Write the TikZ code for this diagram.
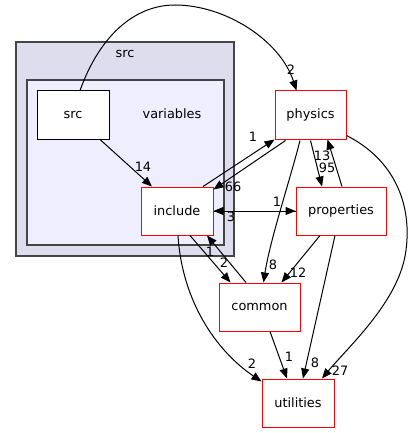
\documentclass[tikz,border=0pt]{standalone}
\usepackage{fontspec}
\setmainfont{DejaVu Sans}
\usetikzlibrary{arrows.meta,calc}
\tikzset{
  dnode/.style={draw=red, fill=white, line width=1pt, minimum height=48pt, inner sep=0pt, font=\fontsize{12.9}{15}\selectfont},
  snode/.style={draw=black, fill=white, line width=1pt, minimum height=48pt, inner sep=0pt, font=\fontsize{12.9}{15}\selectfont},
  lbl/.style={inner sep=0pt, font=\fontsize{12.9}{15}\selectfont},
  edge/.style={draw=black, line width=1pt, -{Triangle[length=10pt,width=8pt]}},
}
\begin{document}
\begin{tikzpicture}[x=1pt,y=-1pt]
\useasboundingbox (0,0) rectangle (413,433);
% clusters
\draw[fill={rgb,255:red,221;green,221;blue,238}, draw={rgb,255:red,68;green,68;blue,68}, line width=1.3pt] (16,42) rectangle (234,256);
\node[lbl] (srclbl) at (125,54) {src};
\draw[fill={rgb,255:red,238;green,238;blue,255}, draw={rgb,255:red,68;green,68;blue,68}, line width=1.3pt] (27,80) rectangle (224,245);
\node[lbl] (varlbl) at (172,114) {variables};
% nodes
\node[snode, minimum width=72pt] (src) at (73,115) {src};
\node[dnode, minimum width=72pt] (include) at (177,211) {include};
\node[dnode, minimum width=71pt] (physics) at (310.5,115) {physics};
\node[dnode, minimum width=90pt] (properties) at (341,211) {properties};
\node[dnode, minimum width=81pt] (common) at (259.5,307) {common};
\node[dnode, minimum width=72pt] (utilities) at (298,403) {utilities};
% edges
\draw[edge] ($(src.north)+(7,0)$) .. controls (100,35) and (135,5) .. (175,5) .. controls (225,5) and (280,40) .. ($(physics.north)+(-14,0)$);
\draw[edge] ($(src.south)+(27,0)$) -- ($(include.north)+(-25,0)$);
\draw[edge] ($(include.north)+(26,0)$) -- ($(physics.south west)+(0,0)$);
\draw[edge] ($(physics.south)+(-25,1)$) -- ($(include.north east)+(0,3)$);
\draw[edge] (include.east) -- (properties.west);
\draw[edge] (properties.west) -- (include.east);
\draw[edge] ($(include.south)+(13,0)$) -- ($(common.north)+(-29,0)$);
\draw[edge] ($(common.north)+(-13.5,0)$) -- ($(include.south)+(30,0)$);
\draw[edge] ($(include.south)+(1,0)$) .. controls (182,300) and (215,350) .. ($(utilities.north west)+(0,3)$);
\draw[edge] ($(physics.south)+(-10.5,1)$) .. controls (290,180) and (270,240) .. ($(common.north)+(4,0)$);
\draw[edge] ($(physics.south)+(0,1)$) -- ($(properties.north)+(-19,0)$);
\draw[edge] ($(properties.north)+(1,0)$) -- ($(physics.south)+(17,0)$);
\draw[edge] ($(properties.south)+(-21,0)$) -- ($(common.north)+(22,0)$);
\draw[edge] ($(properties.south)+(-6,0)$) -- ($(utilities.north)+(5,0)$);
\draw[edge] ($(physics.south east)+(0,-4)$) .. controls (395,160) and (412,205) .. (406,250) .. controls (400,300) and (350,345) .. ($(utilities.north)+(24,0)$);
\draw[edge] ($(common.south)+(10.5,0)$) -- ($(utilities.north)+(-11,0)$);
% labels
\node[lbl] (l1) at (291,70) {2};
\node[lbl] (l2) at (143,167) {14};
\node[lbl] (l3) at (253,137) {1};
\node[lbl] (l4) at (233,187) {66};
\node[lbl] (l5) at (277,202) {1};
\node[lbl] (l6) at (231,217) {3};
\node[lbl] (l7) at (210,252) {1};
\node[lbl] (l8) at (224,263) {2};
\node[lbl] (l9) at (273,265) {8};
\node[lbl] (l10) at (298,273) {12};
\node[lbl] (l11) at (322,156) {13};
\node[lbl] (l12) at (327,168) {95};
\node[lbl] (l13) at (252,364) {2};
\node[lbl] (l14) at (289,357) {1};
\node[lbl] (l15) at (315,363) {8};
\node[lbl] (l16) at (340,371) {27};
\end{tikzpicture}
\end{document}
